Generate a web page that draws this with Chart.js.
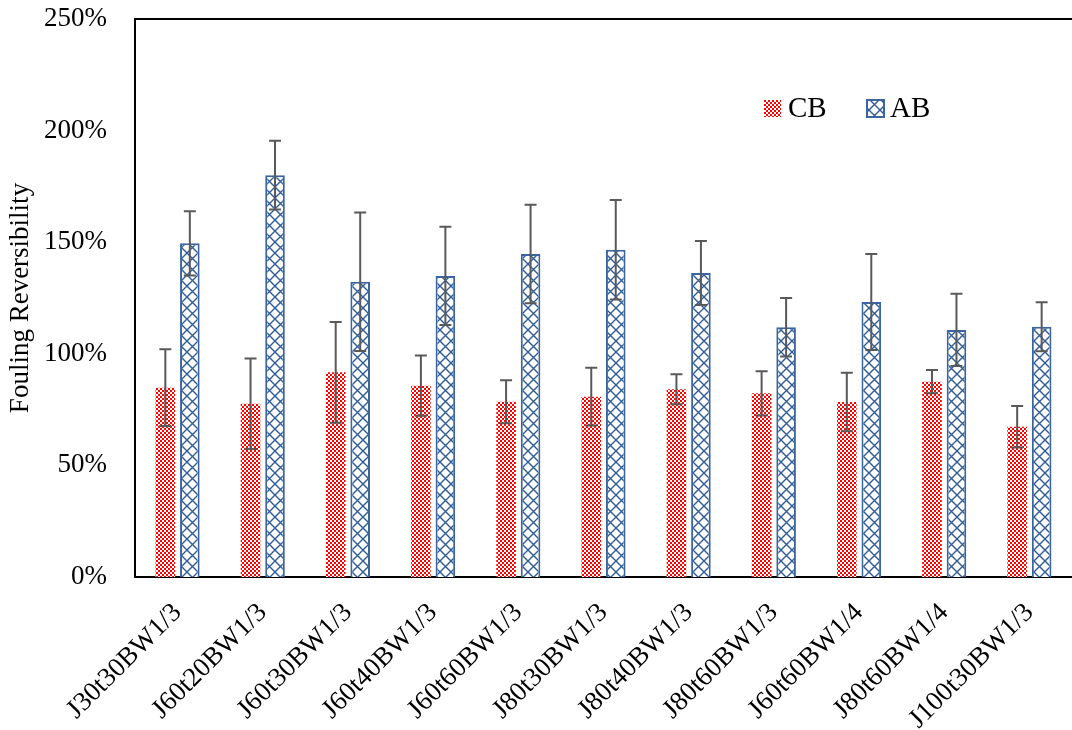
<!DOCTYPE html>
<html>
<head>
<meta charset="utf-8">
<script src="https://cdn.jsdelivr.net/npm/chart.js@4.4.1/dist/chart.umd.min.js"></script>
<style>
  body { margin: 0; background: #fff; }
  #wrap { width: 1072px; height: 730px; position: relative; }
</style>
</head>
<body>
<div id="wrap"><canvas id="chart"></canvas></div>
<script>
"use strict";

// data (percent)
let labels = ["J30t30BW1/3", "J60t20BW1/3", "J60t30BW1/3", "J60t40BW1/3", "J60t60BW1/3", "J80t30BW1/3",
              "J80t40BW1/3", "J80t60BW1/3", "J60t60BW1/4", "J80t60BW1/4", "J100t30BW1/3"];
let cbValues = [84.8, 77.6, 91.7, 85.7, 78.5, 80.8, 84.1, 82.3, 78.4, 87.5, 67.3];
let cbErrors = [17.2, 20.3, 22.6, 13.5, 9.6, 12.9, 6.7, 9.9, 13.1, 5.2, 9.3];
let abValues = [149.5, 180.0, 132.3, 134.9, 144.7, 146.6, 136.2, 111.9, 123.2, 110.7, 112.1];
let abErrors = [14.4, 15.4, 31.0, 22.0, 22.1, 22.3, 14.3, 13.1, 21.5, 16.2, 11.0];
let yTicks = [0, 50, 100, 150, 200, 250];

const FONT = "'Liberation Serif', 'Times New Roman', serif";

// fill patterns like the excel ones
let makeChecker = () => {
    let c = document.createElement("canvas");
    c.width = 4; c.height = 4;
    let ctx = c.getContext("2d");
    ctx.fillStyle = "#ffffff";
    ctx.fillRect(0, 0, 4, 4);
    ctx.fillStyle = "#ff0000";
    ctx.fillRect(0, 0, 2, 2);
    ctx.fillRect(2, 2, 2, 2);
    return ctx.createPattern(c, "repeat");
}

let makeDiamond = () => {
    let c = document.createElement("canvas");
    c.width = 11; c.height = 11;
    let ctx = c.getContext("2d");
    ctx.fillStyle = "#ffffff";
    ctx.fillRect(0, 0, 11, 11);
    ctx.strokeStyle = "#2f5b98";
    ctx.lineWidth = 1.4;
    ctx.beginPath();
    ctx.moveTo(0, 0); ctx.lineTo(11, 11);
    ctx.moveTo(11, 0); ctx.lineTo(0, 11);
    ctx.stroke();
    return ctx.createPattern(c, "repeat");
}

let checker = makeChecker();
let diamond = makeDiamond();
let errorsByDataset = [cbErrors, abErrors];

// error bars drawn on the bars through the y scale
let errorBarPlugin = {
    id: "errorBars",
    afterDatasetsDraw(chart) {
        let ctx = chart.ctx;
        let y = chart.scales.y;
        ctx.save();
        ctx.strokeStyle = "#595959";
        ctx.lineWidth = 2;
        errorsByDataset.forEach((errs, di) => {
            let meta = chart.getDatasetMeta(di);
            meta.data.forEach((bar, i) => {
                let v = chart.data.datasets[di].data[i];
                let top = y.getPixelForValue(v + errs[i]);
                let bottom = y.getPixelForValue(v - errs[i]);
                ctx.beginPath();
                ctx.moveTo(bar.x, top); ctx.lineTo(bar.x, bottom);
                ctx.moveTo(bar.x - 6, top); ctx.lineTo(bar.x + 6, top);
                ctx.moveTo(bar.x - 6, bottom); ctx.lineTo(bar.x + 6, bottom);
                ctx.stroke();
            });
        });
        ctx.restore();
    }
};

// top frame line + legend inside the plot
let framePlugin = {
    id: "frame",
    afterDraw(chart) {
        let ctx = chart.ctx;
        let area = chart.chartArea;
        ctx.save();
        ctx.strokeStyle = "#000";
        ctx.lineWidth = 2;
        ctx.beginPath();
        ctx.moveTo(area.left - 1, area.top);
        ctx.lineTo(chart.width, area.top);
        ctx.stroke();

        ctx.font = "29px " + FONT;
        ctx.textBaseline = "middle";
        // CB
        ctx.fillStyle = checker;
        ctx.fillRect(764, 100, 17, 17);
        ctx.fillStyle = "#000";
        ctx.fillText("CB", 788, 109);
        // AB
        ctx.fillStyle = diamond;
        ctx.fillRect(867, 100, 17, 17);
        ctx.strokeStyle = "#3a65a0";
        ctx.lineWidth = 2;
        ctx.strokeRect(867, 100, 17, 17);
        ctx.fillStyle = "#000";
        ctx.fillText("AB", 890, 109);
        ctx.restore();
    }
};

let chart = new Chart(document.querySelector("#chart"), {
    type: "bar",
    data: {
        labels: labels,
        datasets: [{
            label: "CB",
            data: cbValues,
            backgroundColor: checker,
            borderWidth: 0,
            categoryPercentage: 0.575,
            barPercentage: 0.8
        }, {
            label: "AB",
            data: abValues,
            backgroundColor: diamond,
            borderColor: "#3a65a0",
            borderWidth: 2,
            categoryPercentage: 0.575,
            barPercentage: 0.8
        }]
    },
    options: {
        responsive: true,
        maintainAspectRatio: false,
        animation: false,
        layout: { padding: { top: 19, right: 0, left: 0, bottom: 0 } },
        plugins: {
            legend: { display: false },
            tooltip: { enabled: false }
        },
        scales: {
            x: {
                grid: { display: false, drawTicks: false },
                border: { display: true, color: "#000", width: 2 },
                ticks: {
                    color: "#000",
                    font: { family: FONT, size: 27 },
                    minRotation: 45,
                    maxRotation: 45,
                    padding: 20,
                    autoSkip: false
                },
                afterFit: scale => {
                    scale.height = 153;
                    scale.paddingLeft = 0;
                    scale.paddingRight = 0;
                }
            },
            y: {
                min: 0,
                max: 250,
                afterBuildTicks: scale => { scale.ticks = yTicks.map(v => ({ value: v })); },
                grid: { display: false, drawTicks: false },
                border: { display: true, color: "#000", width: 2 },
                ticks: {
                    color: "#000",
                    font: { family: FONT, size: 27 },
                    padding: 28,
                    callback: v => v + "%"
                },
                title: {
                    display: true,
                    text: "Fouling Reversibility",
                    color: "#000",
                    font: { family: FONT, size: 27 },
                    padding: { top: 5, bottom: 0 }
                },
                afterFit: scale => {
                    scale.width = 135;
                    scale.paddingTop = 0;
                    scale.paddingBottom = 0;
                }
            }
        }
    },
    plugins: [errorBarPlugin, framePlugin]
});
</script>
</body>
</html>
